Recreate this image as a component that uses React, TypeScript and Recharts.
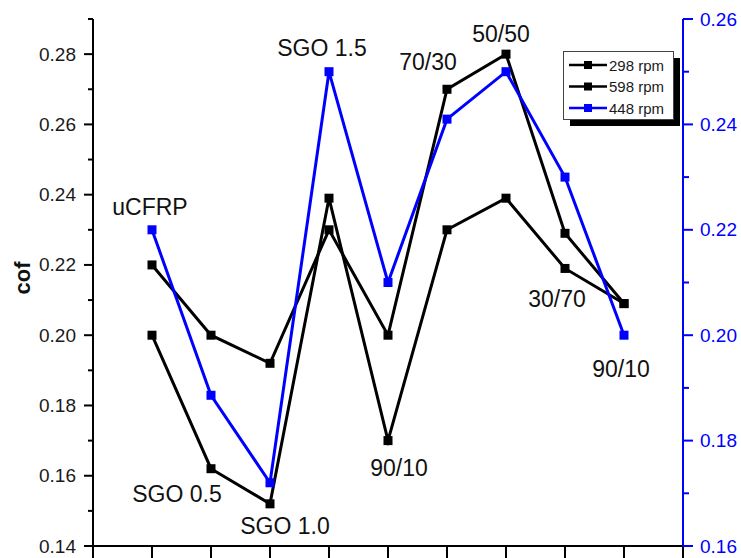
import React from 'react';
import { ComposedChart, Line, XAxis, YAxis, Legend, LabelList } from 'recharts';

// sample names, in plotting order (x = 1..9)
const categories = ['uCFRP', 'SGO 0.5', 'SGO 1.0', 'SGO 1.5', '90/10', '70/30', '50/50', '30/70', '90/10'];

// coefficient of friction
const cof298 = [0.22, 0.2, 0.192, 0.23, 0.2, 0.27, 0.28, 0.229, 0.209];
const cof598 = [0.2, 0.162, 0.152, 0.239, 0.17, 0.23, 0.239, 0.219, 0.209];
const cof448 = [0.22, 0.1886, 0.172, 0.25, 0.21, 0.241, 0.25, 0.23, 0.2];

const leftTicks = [0.14, 0.15, 0.16, 0.17, 0.18, 0.19, 0.2, 0.21, 0.22, 0.23, 0.24, 0.25, 0.26, 0.27, 0.28, 0.29];
const rightTicks = [0.16, 0.17, 0.18, 0.19, 0.2, 0.21, 0.22, 0.23, 0.24, 0.25, 0.26];
const xTicks = [0, 1, 2, 3, 4, 5, 6, 7, 8, 9, 10];

const legendOrder = ['298 rpm', '598 rpm', '448 rpm'];

const FONT = '"Liberation Sans", Arial, sans-serif';
const BLUE = '#0000ff';

// which series each sample name is written next to, and the offset from that point
const labelAnchor = ['c448', 'c598', 'c598', 'c448', 'c598', 'c298', 'c298', 'c598', 'c448'];
const labelOffset: [number, number][] = [
  [-2, -23], [-34, 25], [15, 22], [-7, -24], [11, 27], [-19, -27], [-5, -20], [-8, 31], [-3, 34],
];

const data = categories.map((name, i) => ({
  x: i + 1,
  name,
  c298: cof298[i],
  c598: cof598[i],
  c448: cof448[i],
}));

const squareDot = (color: string) => (p: any) => (
  <rect key={`d-${p.index}`} x={p.cx - 4.5} y={p.cy - 4.5} width={9} height={9} fill={color} />
);

const categoryLabel = (key: string) => (p: any) => {
  const i = p.index;
  if (labelAnchor[i] !== key) return null;
  const [dx, dy] = labelOffset[i];
  return (
    <text
      key={`l-${i}`}
      x={p.x + dx}
      y={p.y + dy}
      textAnchor="middle"
      dominantBaseline="central"
      fontSize={23}
      fontFamily={FONT}
      fill="#111"
    >
      {categories[i]}
    </text>
  );
};

const LeftTick = ({ x, y, payload }: any) => {
  const major = Math.round(payload.value * 100) % 2 === 0;
  return (
    <g>
      <line x1={x} x2={x - (major ? 9 : 5)} y1={y} y2={y} stroke="#000" strokeWidth={2} />
      {major && (
        <text x={x - 17} y={y} textAnchor="end" dominantBaseline="central" fontSize={19} fontFamily={FONT} fill="#1a1a1a">
          {payload.value.toFixed(2)}
        </text>
      )}
    </g>
  );
};

const RightTick = ({ x, y, payload }: any) => {
  const major = Math.round(payload.value * 100) % 2 === 0;
  return (
    <g>
      <line x1={x} x2={x + (major ? 10 : 6)} y1={y} y2={y} stroke={BLUE} strokeWidth={2} />
      {major && (
        <text x={x + 17} y={y} textAnchor="start" dominantBaseline="central" fontSize={19} fontFamily={FONT} fill={BLUE}>
          {payload.value.toFixed(2)}
        </text>
      )}
    </g>
  );
};

const BottomTick = ({ x, y }: any) => (
  <line x1={x} x2={x} y1={y} y2={y + 13} stroke="#000" strokeWidth={2} />
);

const LegendBox = ({ payload }: any) => {
  const items = [...(payload || [])].sort(
    (a: any, b: any) => legendOrder.indexOf(a.value) - legendOrder.indexOf(b.value)
  );
  return (
    <svg width={118} height={78} style={{ display: 'block' }}>
      <rect x={7} y={7} width={110} height={68} fill="#000" />
      <rect x={0.5} y={0.5} width={110} height={68} fill="#fff" stroke="#444" />
      {items.map((item: any, i: number) => {
        const cy = 14 + i * 21.5;
        return (
          <g key={item.value}>
            <line x1={6} x2={44} y1={cy} y2={cy} stroke={item.color} strokeWidth={2.5} />
            <rect x={21} y={cy - 4} width={8} height={8} fill={item.color} />
            <text x={46} y={cy} dominantBaseline="central" fontSize={15} fontFamily={FONT} fill="#1a1a1a">
              {item.value}
            </text>
          </g>
        );
      })}
    </svg>
  );
};

export default function App() {
  return (
    <div style={{ width: 741, height: 558, background: '#fff' }}>
      <style>{'body{margin:0}'}</style>
      <ComposedChart width={741} height={558} data={data} margin={{ top: 19, right: 0, bottom: 0, left: 0 }}>
        <XAxis
          dataKey="x"
          type="number"
          domain={[0, 10]}
          ticks={xTicks}
          height={12}
          tickSize={0}
          tickMargin={0}
          tick={<BottomTick />}
          axisLine={{ stroke: '#000', strokeWidth: 2 }}
          tickLine={false}
        />
        <XAxis
          xAxisId="top"
          orientation="top"
          dataKey="x"
          type="number"
          domain={[0, 10]}
          height={0}
          tick={false}
          tickLine={false}
          axisLine={{ stroke: '#000', strokeWidth: 2 }}
        />
        <YAxis
          yAxisId="left"
          width={93}
          domain={[0.14, 0.29]}
          ticks={leftTicks}
          interval={0}
          allowDataOverflow
          tickSize={0}
          tickMargin={0}
          tick={<LeftTick />}
          tickLine={false}
          axisLine={{ stroke: '#000', strokeWidth: 2 }}
          label={{
            content: () => (
              <text
                x={22}
                y={278}
                transform="rotate(-90 22 278)"
                textAnchor="middle"
                dominantBaseline="central"
                fontSize={22}
                fontWeight="bold"
                fontFamily={FONT}
                fill="#111"
              >
                cof
              </text>
            ),
          }}
        />
        <YAxis
          yAxisId="right"
          orientation="right"
          width={58}
          domain={[0.16, 0.26]}
          ticks={rightTicks}
          interval={0}
          allowDataOverflow
          tickSize={0}
          tickMargin={0}
          tick={<RightTick />}
          tickLine={false}
          axisLine={{ stroke: BLUE, strokeWidth: 2 }}
        />
        <Legend
          layout="horizontal"
          verticalAlign="middle"
          content={<LegendBox />}
          wrapperStyle={{ position: 'absolute', left: 563, top: 51, width: 118, height: 78 }}
        />
        <Line
          yAxisId="left"
          dataKey="c298"
          name="298 rpm"
          stroke="#000"
          strokeWidth={3}
          dot={squareDot('#000')}
          activeDot={false}
          isAnimationActive={false}
        >
          <LabelList dataKey="c298" content={categoryLabel('c298')} />
        </Line>
        <Line
          yAxisId="left"
          dataKey="c598"
          name="598 rpm"
          stroke="#000"
          strokeWidth={3}
          dot={squareDot('#000')}
          activeDot={false}
          isAnimationActive={false}
        >
          <LabelList dataKey="c598" content={categoryLabel('c598')} />
        </Line>
        <Line
          yAxisId="right"
          dataKey="c448"
          name="448 rpm"
          stroke={BLUE}
          strokeWidth={3}
          dot={squareDot(BLUE)}
          activeDot={false}
          isAnimationActive={false}
        >
          <LabelList dataKey="c448" content={categoryLabel('c448')} />
        </Line>
      </ComposedChart>
    </div>
  );
}
